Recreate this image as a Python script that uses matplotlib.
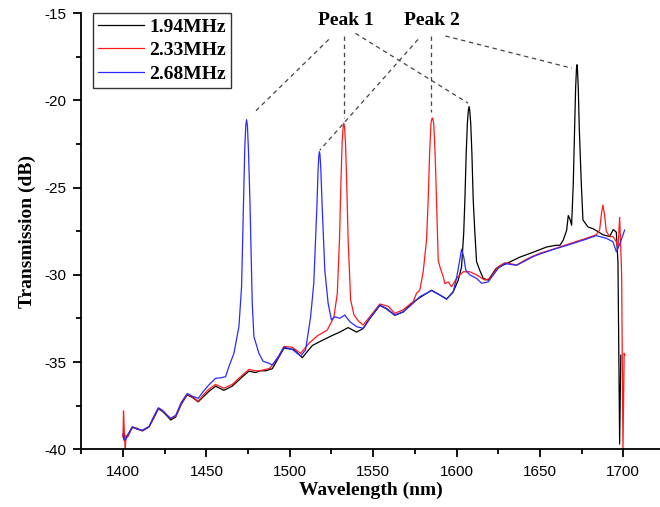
import matplotlib
matplotlib.use('Agg')
import matplotlib.pyplot as plt
from matplotlib.ticker import MultipleLocator

# 1.94 MHz (black)
wl_194 = [1400.0, 1400.8, 1401.6, 1402.6, 1405.6, 1408.5, 1411.6, 1415.6, 1418.5, 1421.2,
          1423.6, 1426.5, 1428.6, 1431.6, 1435.0, 1438.5, 1441.5, 1445.1, 1448.0, 1451.5,
          1455.5, 1460.5, 1465.5, 1471.5, 1475.5, 1479.5, 1482.0, 1485.5, 1489.5, 1493.0,
          1496.5, 1502.5, 1507.5, 1510.5, 1513.5, 1517.5, 1521.5, 1526.0, 1530.0, 1535.0,
          1540.0, 1544.0, 1548.0, 1554.0, 1558.0, 1563.0, 1568.0, 1572.0, 1578.0, 1585.0,
          1590.0, 1594.0, 1598.0, 1601.0, 1603.0, 1604.3, 1605.0, 1605.8, 1606.5, 1607.1,
          1607.5, 1607.9, 1608.5, 1609.2, 1610.0, 1611.0, 1612.0, 1614.0, 1616.0, 1619.0,
          1623.8, 1630.0, 1638.0, 1646.0, 1654.0, 1659.8, 1662.0, 1664.0, 1666.0, 1667.0,
          1668.0, 1669.0, 1670.0, 1670.8, 1671.4, 1671.9, 1672.2, 1672.5, 1673.0, 1673.6,
          1674.8, 1675.8, 1678.8, 1681.8, 1684.8, 1687.8, 1691.8, 1694.0, 1695.8, 1696.8,
          1697.8, 1698.5]
db_194 = [-39.2, -39.5, -39.3, -39.3, -38.75, -38.8, -38.95, -38.72, -38.2, -37.68,
          -37.82, -38.1, -38.32, -38.15, -37.4, -36.88, -37.02, -37.28, -37.0, -36.68,
          -36.38, -36.62, -36.38, -35.85, -35.52, -35.6, -35.5, -35.5, -35.38, -34.8,
          -34.2, -34.28, -34.75, -34.4, -34.05, -33.85, -33.66, -33.45, -33.28, -33.02,
          -33.28, -33.08, -32.5, -31.75, -31.95, -32.32, -32.13, -31.7, -31.3, -30.88,
          -31.15, -31.38, -30.98, -30.3, -29.55, -27.6, -25.7, -23.0, -21.3, -20.55,
          -20.35, -20.55, -21.3, -23.0, -25.7, -27.6, -29.24, -29.75, -30.2, -30.3,
          -29.62, -29.35, -28.98, -28.7, -28.4, -28.3, -28.3, -28.0, -27.45, -26.6,
          -26.8, -27.15, -24.75, -21.6, -19.3, -18.2, -17.95, -18.2, -19.3, -21.6,
          -24.75, -26.85, -27.25, -27.35, -27.52, -27.7, -27.8, -27.4, -27.55, -29.3,
          -39.7, -34.6]

# 2.33 MHz (red)
wl_233 = [1400.0, 1400.3, 1400.8, 1401.3, 1401.8, 1402.6, 1405.6, 1408.5, 1411.6, 1415.6,
          1418.5, 1421.2, 1423.6, 1426.5, 1428.6, 1431.6, 1435.0, 1438.5, 1441.5, 1445.1,
          1448.0, 1451.5, 1455.5, 1460.5, 1465.5, 1471.5, 1475.5, 1479.5, 1482.0, 1488.0,
          1493.0, 1496.5, 1501.5, 1506.5, 1511.5, 1516.5, 1522.5, 1526.5, 1528.5, 1529.8,
          1530.7, 1531.4, 1532.0, 1532.4, 1532.8, 1533.4, 1534.1, 1535.0, 1536.5, 1538.5,
          1541.5, 1544.0, 1548.0, 1554.0, 1559.0, 1563.0, 1568.0, 1574.0, 1576.0, 1578.0,
          1580.0, 1582.0, 1583.0, 1583.9, 1584.7, 1585.2, 1585.5, 1585.8, 1586.3, 1587.1,
          1588.0, 1589.0, 1590.0, 1592.0, 1593.0, 1595.0, 1597.0, 1600.0, 1604.0, 1608.0,
          1612.0, 1617.0, 1620.0, 1625.0, 1629.0, 1636.0, 1641.0, 1646.0, 1650.0, 1657.8,
          1669.7, 1677.8, 1683.7, 1685.8, 1687.0, 1687.8, 1688.8, 1689.8, 1691.8, 1693.8,
          1695.8, 1696.8, 1697.8, 1698.5, 1699.0, 1699.8, 1700.5, 1700.9]
db_233 = [-39.3, -37.8, -39.0, -40.05, -39.2, -39.3, -38.72, -38.85, -38.92, -38.7,
          -38.15, -37.65, -37.78, -38.05, -38.25, -38.1, -37.35, -36.85, -36.98, -37.25,
          -36.9, -36.55, -36.28, -36.5, -36.28, -35.75, -35.42, -35.5, -35.5, -35.36,
          -34.75, -34.1, -34.15, -34.5, -33.92, -33.5, -33.16, -32.4, -31.06, -28.0,
          -24.6, -22.4, -21.5, -21.3, -21.5, -22.4, -24.6, -28.0, -31.44, -32.3,
          -32.68, -32.87, -32.4, -31.67, -31.8, -32.2, -32.0, -31.54, -31.05, -30.87,
          -29.82, -28.0, -25.7, -22.9, -21.3, -21.05, -21.0, -21.05, -21.3, -22.9,
          -25.7, -29.15, -29.53, -30.1, -30.5, -30.4, -30.68, -30.19, -29.82, -29.82,
          -30.0, -30.3, -30.2, -29.53, -29.3, -29.43, -29.15, -28.92, -28.76, -28.53,
          -28.15, -27.9, -27.7, -27.43, -26.4, -26.0, -26.6, -27.5, -27.8, -27.8,
          -28.1, -28.5, -26.7, -28.5, -30.0, -40.05, -34.5, -34.6]

# 2.68 MHz (blue)
wl_268 = [1400.0, 1400.8, 1401.6, 1402.6, 1405.6, 1408.5, 1411.6, 1415.6, 1418.5, 1421.2,
          1423.6, 1426.5, 1428.6, 1431.6, 1435.0, 1438.5, 1441.5, 1445.1, 1448.0, 1451.5,
          1455.5, 1458.5, 1461.5, 1463.5, 1466.5, 1469.5, 1471.1, 1472.3, 1473.0, 1473.6,
          1474.1, 1474.6, 1475.2, 1476.1, 1477.5, 1478.5, 1481.5, 1484.0, 1487.5, 1489.5,
          1493.0, 1496.5, 1501.5, 1506.5, 1509.5, 1512.5, 1514.4, 1516.3, 1517.0, 1517.5,
          1517.8, 1518.1, 1518.6, 1519.4, 1521.0, 1523.0, 1525.0, 1527.0, 1530.0, 1533.0,
          1536.0, 1540.0, 1544.0, 1548.0, 1554.0, 1558.0, 1563.0, 1568.0, 1572.0, 1578.0,
          1585.0, 1590.0, 1594.0, 1598.0, 1600.0, 1601.6, 1603.0, 1604.3, 1605.5, 1608.0,
          1612.0, 1615.0, 1619.0, 1625.0, 1629.0, 1636.0, 1641.0, 1646.0, 1650.0, 1657.8,
          1669.7, 1677.8, 1683.7, 1689.8, 1693.8, 1695.8, 1698.0, 1700.8]
db_268 = [-39.1, -39.4, -39.47, -39.2, -38.7, -38.85, -38.9, -38.7, -38.1, -37.62,
          -37.76, -38.05, -38.22, -38.05, -37.3, -36.8, -36.95, -37.08, -36.7, -36.31,
          -35.93, -35.9, -35.84, -35.26, -34.5, -32.97, -30.68, -25.7, -22.8, -21.45,
          -21.1, -21.45, -22.8, -25.7, -31.63, -33.54, -34.5, -34.95, -35.07, -35.17,
          -34.7, -34.15, -34.27, -34.65, -34.3, -32.4, -30.48, -26.0, -23.9, -23.1,
          -22.94, -23.1, -23.9, -26.0, -29.72, -31.63, -32.59, -32.4, -32.49, -32.3,
          -32.68, -32.97, -33.06, -32.49, -31.73, -31.92, -32.3, -32.11, -31.8, -31.25,
          -30.9, -31.15, -31.4, -30.96, -30.19, -29.33, -28.53, -28.96, -29.72, -30.0,
          -30.2, -30.48, -30.4, -29.62, -29.35, -29.45, -29.2, -28.95, -28.8, -28.55,
          -28.2, -27.95, -27.75, -27.9, -28.1, -28.67, -28.2, -27.43]

series_labels = ['1.94MHz', '2.33MHz', '2.68MHz']
series_colors = ['black', '#ff1a1a', '#2b2bff']

peak_labels = ['Peak 1', 'Peak 2']
peak_label_xy = [(1533.6, -15.4), (1585.1, -15.4)]
# leader lines: (start, end) per label
leaders = [
    [((1523.4, -16.5), (1478.5, -20.7)), ((1532.6, -16.3), (1532.6, -21.0)), ((1539.4, -16.15), (1606.9, -20.15))],
    [((1576.9, -16.5), (1518.0, -22.85)), ((1584.5, -16.3), (1584.5, -20.65)), ((1593.3, -16.3), (1669.2, -18.15))],
]

serif = 'Liberation Serif'
plt.rcParams['font.family'] = 'Liberation Sans'
plt.rcParams['axes.unicode_minus'] = False

fig = plt.figure(figsize=(6.6, 5.07), dpi=100)
ax = fig.add_axes([0.1232, 0.1138, 0.8768, 0.86])

for wl, db, lab, c in zip([wl_194, wl_233, wl_268], [db_194, db_233, db_268], series_labels, series_colors):
    ax.plot(wl, db, color=c, lw=0.9, label=lab)

for i, name in enumerate(peak_labels):
    ax.text(peak_label_xy[i][0], peak_label_xy[i][1], name, ha='center', va='center',
            fontfamily=serif, fontweight='bold', fontsize=14, clip_on=False)
    for (x0, y0), (x1, y1) in leaders[i]:
        ax.plot([x0, x1], [y0, y1], color='#444444', lw=0.9, ls=(0, (3.5, 3)), clip_on=False)

ax.set_xlim(1375, 1722)
ax.set_ylim(-40, -15)
ax.xaxis.set_major_locator(MultipleLocator(50))
ax.xaxis.set_minor_locator(MultipleLocator(25))
ax.yaxis.set_major_locator(MultipleLocator(5))
ax.yaxis.set_minor_locator(MultipleLocator(2.5))
ax.tick_params(which='major', direction='out', length=6, width=1.3, labelsize=11, pad=5)
ax.tick_params(which='minor', direction='out', length=3.5, width=1.3)
for s in ['top', 'right']:
    ax.spines[s].set_visible(False)
for s in ['left', 'bottom']:
    ax.spines[s].set_linewidth(1.3)

ax.set_xlabel('Wavelength (nm)', fontfamily=serif, fontweight='bold', fontsize=14, labelpad=2)
ax.set_ylabel('Transmission (dB)', fontfamily=serif, fontweight='bold', fontsize=14, labelpad=6)

leg = ax.legend(loc='upper left', bbox_to_anchor=(0.02, 1.0), borderaxespad=0, fancybox=False,
                prop={'family': serif, 'weight': 'bold', 'size': 14}, handlelength=2.4,
                handletextpad=0.25, labelspacing=0.3, borderpad=0.25)
leg.get_frame().set_edgecolor('black')
leg.get_frame().set_linewidth(1.0)

fig.savefig('out.png', dpi=100)
